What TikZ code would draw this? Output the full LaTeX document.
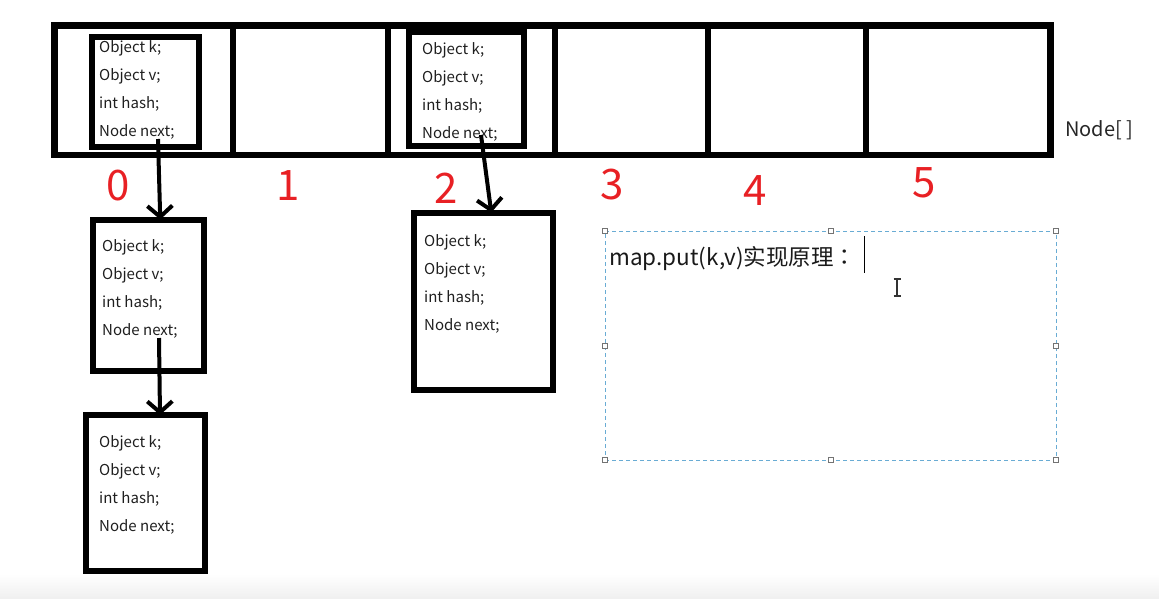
\documentclass[tikz,border=0pt]{standalone}
\usepackage{fontspec}
\setmainfont{Noto Sans CJK SC}
\newfontfamily\colonfont{Noto Sans CJK TC}
\usetikzlibrary{arrows.meta,positioning}
\definecolor{idxred}{RGB}{232,32,36}
\definecolor{selblue}{RGB}{105,172,212}

\begin{document}
\begin{tikzpicture}[x=1pt,y=-1pt,
   arrbox/.style={draw,line width=6.5pt,inner sep=0pt,outer sep=0pt,anchor=north west},
   nbox/.style={draw,line width=6pt,inner sep=0pt,outer sep=0pt,anchor=north west},
   field/.style={anchor=west,inner sep=0pt,text=black!88,font=\fontsize{15}{18}\selectfont},
   idx/.style={text=idxred,inner sep=0pt,font=\fontsize{42}{46}\selectfont},
   link/.style={line width=4pt,-{Straight Barb[length=11pt,width=25pt,line width=4pt]}},
   notebox/.style={draw=selblue,line width=1pt,dash pattern=on 4pt off 3pt,inner sep=0pt,outer sep=0pt,anchor=north west},
   handle/.style={draw=black!55,fill=white,line width=0.8pt,minimum size=5pt,inner sep=0pt}]
 \useasboundingbox (0,0) rectangle (1159,598);
 \shade[top color=white,bottom color=black!6] (0,574) rectangle (1159,598);
 % the Node[] table
 \node[arrbox,minimum width=996pt,minimum height=129.5pt] (arr) at (54.5,25.5) {};
 \foreach \x in {232.5,387.5,555,708,866}
  \draw[line width=6pt] (arr.north -| \x,0) -- (arr.south -| \x,0);
 \node[anchor=base west,inner sep=0pt,text=black!85,font=\fontsize{20}{24}\selectfont] (tname) at (1065,136) {Node[ ]};
 % entries
 \foreach \nm/\xa/\ya/\w/\h in {b0/91.5/36.5/107.5/110,b2/409/32/114.5/114,
   c01/92.5/219.5/111.5/151,c02/86/415/119/156,c21/413.5/212.5/139.5/177.5}
  \node[nbox,minimum width=\w pt,minimum height=\h pt] (\nm) at (\xa,\ya) {};
 \foreach \nm/\tx/\ty in {b0/99/48,b2/422/50,c01/102/247,c02/99/443,c21/424/242}
 {\foreach \t [count=\i] in {Object k;,Object v;,int hash;,Node next;}
   \node[field] (\nm-f\i) at (\tx,\ty+28*\i-28) {\t};
 }
 % indices
 \foreach \i/\x/\y in {0/118.5/186,1/288/186,2/446/188,3/612/185,4/755/191,5/924/183}
  \node[idx] (idx\i) at (\x,\y) {\i};
 % next pointers
 \coordinate (n0) at (158,139);
 \coordinate (n01) at (159,338);
 \coordinate (n2) at (481,135);
 \draw[link] (n0) -- ([xshift=12pt]c01.north);
 \draw[link] (n01) -- ([xshift=14.5pt]c02.north);
 \draw[link] (n2) -- ([xshift=8pt]c21.north);
 % text box
 \node[notebox,minimum width=451pt,minimum height=229pt] (note) at (605,231) {};
 \foreach \a in {north west,north,north east,west,east,south west,south,south east}
  \node[handle] at (note.\a) {};
 \node[anchor=base west,inner sep=0pt,text=black!90,font=\fontsize{22.5}{27}\selectfont] (title) at (609,265) {map.put(k,v)实现原理{\colonfont ：}};
 \draw[line width=1pt] (864,236) -- (864,273);
 % mouse cursor
 \draw[line width=1.2pt,black!80] (897,279) -- (897,296) (893.5,279) -- (900.5,279) (893.5,296) -- (900.5,296);
\end{tikzpicture}
\end{document}
